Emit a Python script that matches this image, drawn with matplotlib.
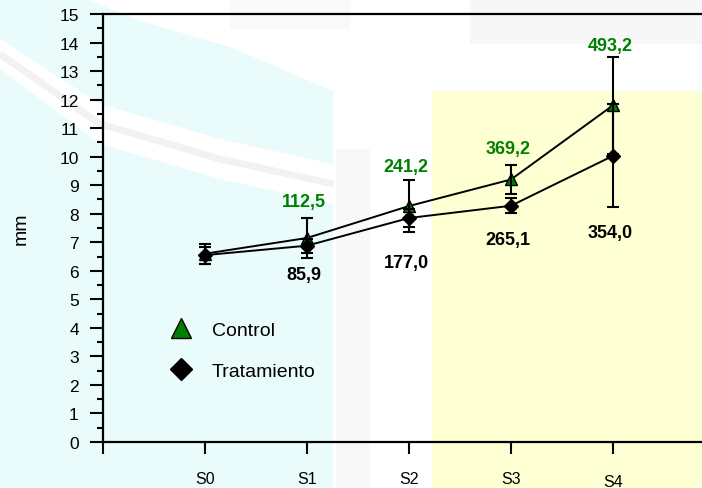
import matplotlib
matplotlib.use('Agg')
import matplotlib.pyplot as plt
from matplotlib.lines import Line2D
from matplotlib.patches import Polygon
import numpy as np

# ---- data -------------------------------------------------------------
categories = ['S0', 'S1', 'S2', 'S3', 'S4']
control_mean = [6.6, 7.15, 8.27, 9.2, 11.8]
control_err = [0.35, 0.7, 0.9, 0.52, 1.7]
control_labels = ['', '112,5', '241,2', '369,2', '493,2']
trat_mean = [6.55, 6.88, 7.85, 8.28, 10.03]
trat_err = [0.3, 0.25, 0.3, 0.26, 1.8]
trat_labels = ['', '85,9', '177,0', '265,1', '354,0']
y_ticks = list(range(0, 16))

# label offsets (points) from the error caps
control_label_gap = [0, 6, 4, 5.3, 1.7]
trat_label_gap = [0, 9.5, 19.5, 13, 12]

W, H = 702, 489
GREEN = '#008000'
plt.rcParams['font.family'] = ['Liberation Sans', 'DejaVu Sans']

fig = plt.figure(figsize=(W / 100, H / 100), dpi=100)
fig.patch.set_facecolor('white')

# ---- decorative background (pixel coordinates, origin top-left) -------
bg = fig.add_axes([0, 0, 1, 1], zorder=-1)
bg.set_xlim(0, W)
bg.set_ylim(H, 0)
bg.axis('off')


def add_bg(points, color):
    bg.add_patch(Polygon(points, closed=True, facecolor=color,
                         edgecolor='none'))


cyan = '#EAFBFB'
yellow = '#FFFFD4'
add_bg([(0, 0), (87, 0), (140, 22), (230, 48), (333, 92), (333, 165),
        (220, 140), (100, 105), (0, 40)], cyan)
add_bg([(0, 70), (100, 145), (220, 180), (333, 205), (333, 489), (0, 489)], cyan)
add_bg([(432, 92), (702, 92), (702, 489), (432, 489)], yellow)
add_bg([(470, 0), (702, 0), (702, 45), (470, 45)], '#F7F7F7')
add_bg([(230, 0), (350, 0), (350, 30), (230, 30)], '#F9F9F9')
add_bg([(336, 150), (370, 150), (370, 489), (336, 489)], '#F8F8F8')
bg.plot([0, 100, 220, 333], [55, 125, 160, 185], color='#F3F1F1', lw=5,
        solid_capstyle='butt')

# ---- axes -------------------------------------------------------------
ax = fig.add_axes([103 / W, 46 / H, 599 / W, 428 / H], zorder=1)
ax.set_facecolor('none')
x = np.arange(len(categories))
ax.set_xlim(-1, 599 / 102 - 1)
ax.set_ylim(0, 15)

ax.plot(x, control_mean, color='black', lw=1.4, zorder=3)
ax.plot(x, trat_mean, color='black', lw=1.4, zorder=3)
ax.plot(x, control_mean, ls='none', marker='^', ms=9, mfc=GREEN,
        mec='black', mew=1, zorder=4)
ax.plot(x, trat_mean, ls='none', marker='D', ms=7, mfc='black',
        mec='black', mew=1, zorder=4)
for mean, err in ((control_mean, control_err), (trat_mean, trat_err)):
    ax.errorbar(x, mean, yerr=err, fmt='none', ecolor='black',
                elinewidth=1.5, capsize=4.5, capthick=1.5, zorder=5)

for xi, m, e, lab, gap in zip(x, control_mean, control_err, control_labels,
                              control_label_gap):
    if lab:
        ax.annotate(lab, (xi, m + e), xytext=(-2, gap),
                    textcoords='offset points', ha='center', va='bottom',
                    color=GREEN, fontsize=13, fontweight='bold')
for xi, m, e, lab, gap in zip(x, trat_mean, trat_err, trat_labels,
                              trat_label_gap):
    if lab:
        ax.annotate(lab, (xi, m - e), xytext=(-2, -gap),
                    textcoords='offset points', ha='center', va='top',
                    color='black', fontsize=13, fontweight='bold')

# ---- ticks & spines ---------------------------------------------------
ax.set_yticks(y_ticks)
ax.set_yticks(np.arange(0.5, 15, 1), minor=True)
ax.set_xticks(np.arange(-1, len(categories)))
ax.set_xticklabels([''] + categories)
ax.tick_params(axis='y', which='major', direction='out', length=9.4,
               width=1.5, pad=8, labelsize=12.5)
ax.tick_params(axis='y', which='minor', direction='out', length=4.3,
               width=1.5)
ax.tick_params(axis='x', which='major', direction='out', length=8.6,
               width=1.5, pad=12.5, labelsize=11.5)
ax.xaxis.get_major_ticks()[-1].set_pad(14.5)
for side in ('left', 'bottom', 'top'):
    ax.spines[side].set_linewidth(1.6)
ax.spines['right'].set_visible(False)

ax.set_ylabel('mm', fontsize=14)
ax.yaxis.set_label_coords((30 - 103) / 599, 0.5)

# ---- legend -----------------------------------------------------------
handles = [
    Line2D([], [], ls='none', marker='^', ms=9, mfc=GREEN, mec='black', mew=1),
    Line2D([], [], ls='none', marker='D', ms=7, mfc='black', mec='black', mew=1),
]
ax.legend(handles, ['Control', 'Tratamiento'], loc='upper left',
          bbox_to_anchor=((171 - 103) / 599, (443 - 322) / 428),
          frameon=False, markerscale=1.65, fontsize=14, handlelength=1.0,
          handletextpad=1.1, labelspacing=1.2, borderpad=0, borderaxespad=0)

fig.savefig('out.png', dpi=100)
